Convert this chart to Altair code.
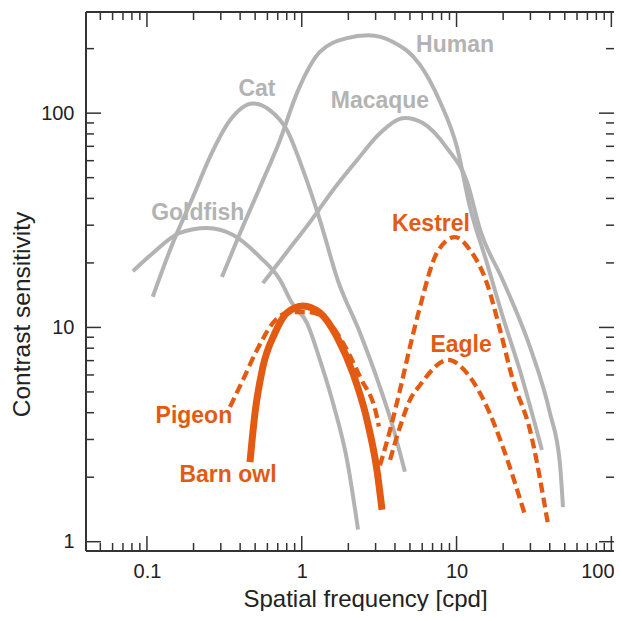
import altair as alt
import pandas as pd

# ---------------- data ----------------
goldfish_x = [0.0812, 0.109, 0.163, 0.244, 0.360, 0.537, 0.723, 0.865, 1.08, 1.31, 1.59, 1.96, 2.31]
goldfish_y = [18.3, 22.2, 27.6, 29.1, 27.0, 21.3, 16.7, 13.0, 10.5, 7.06, 4.45, 2.41, 1.14]

cat_x = [0.109, 0.147, 0.198, 0.255, 0.344, 0.484, 0.624, 0.802, 1.02, 1.31, 1.71, 2.38, 3.20, 3.88, 4.64]
cat_y = [13.9, 24.8, 40.5, 62.4, 92.7, 111, 103, 83.4, 54.2, 31.7, 16.6, 9.42, 5.27, 3.43, 2.12]

human_x = [0.305, 0.399, 0.537, 0.723, 0.931, 1.31, 1.96, 2.68, 3.89, 5.81, 7.82, 10.1, 12.2, 15.7, 19.9, 25.6, 35.6]
human_y = [17.2, 27.5, 45.1, 74.8, 124, 193, 224, 231, 215, 168, 113, 68.7, 36.5, 20.0, 11.2, 6.33, 2.68]

macaque_x = [0.561, 0.802, 1.13, 1.59, 2.27, 3.20, 4.65, 6.06, 8.67, 11.7, 14.2, 19.9, 29.8, 40.1, 46.5, 48.7]
macaque_y = [16.1, 22.5, 31.0, 43.7, 60.2, 80.6, 94.9, 89.9, 68.7, 47.6, 28.5, 16.6, 8.11, 3.99, 2.33, 1.45]

owl_x = [0.463, 0.499, 0.561, 0.671, 0.802, 1.02, 1.31, 1.69, 2.14, 2.64, 3.06, 3.30]
owl_y = [2.35, 3.99, 6.53, 9.42, 11.7, 12.6, 11.7, 9.02, 6.12, 3.70, 2.16, 1.41]

pigeon_x = [0.344, 0.417, 0.514, 0.652, 0.839, 1.08, 1.37, 1.85, 2.38, 3.06, 3.15]
pigeon_y = [4.26, 5.69, 7.85, 10.5, 11.8, 11.8, 11.2, 8.46, 5.87, 3.82, 3.45]

kestrel_x = [3.20, 3.72, 4.31, 5.00, 5.81, 7.47, 9.77, 12.2, 15.7, 19.1, 23.1, 29.8, 39.0]
kestrel_y = [2.27, 3.32, 5.10, 8.11, 12.5, 22.3, 26.4, 23.0, 16.1, 9.73, 5.69, 3.32, 1.20]

eagle_x = [3.72, 4.31, 5.00, 5.81, 8.80, 12.2, 15.7, 19.9, 27.7]
eagle_y = [2.41, 3.43, 4.59, 5.39, 7.05, 5.87, 4.26, 2.77, 1.33]

label_names = ["Human", "Cat", "Macaque", "Goldfish", "Kestrel", "Eagle", "Pigeon", "Barn owl"]
label_x = [9.77, 0.514, 3.20, 0.213, 6.83, 10.7, 0.201, 0.334]
label_y = [208, 129, 113.8, 34.1, 30.3, 8.28, 3.86, 2.05]
label_group = ["gray", "gray", "gray", "gray", "orange", "orange", "orange", "orange"]

x_major = [0.1, 1, 10, 100]
x_minor = [0.05, 0.06, 0.07, 0.08, 0.09, 0.2, 0.3, 0.4, 0.5, 0.6, 0.7, 0.8, 0.9,
           2, 3, 4, 5, 6, 7, 8, 9, 20, 30, 40, 50, 60, 70, 80, 90]
y_major = [1, 10, 100]
y_minor = [2, 3, 4, 5, 6, 7, 8, 9, 20, 30, 40, 50, 60, 70, 80, 90, 200]

# ---------------- styling ----------------
GRAY = "#b3b3b3"
ORANGE = "#e35b12"
AX = "#333333"
FONT = "Liberation Sans"
W, H = 528, 539
MAJ, MIN = 15, 8

xscale = alt.Scale(type="log", domain=[0.0404, 104], nice=False)
yscale = alt.Scale(type="log", domain=[0.905, 296.5], nice=False)


def frame(xs, ys, name):
    return pd.DataFrame({"x": xs, "y": ys, "name": name})


gray_df = pd.concat([
    frame(goldfish_x, goldfish_y, "Goldfish"),
    frame(cat_x, cat_y, "Cat"),
    frame(human_x, human_y, "Human"),
    frame(macaque_x, macaque_y, "Macaque"),
])
dash_df = pd.concat([
    frame(pigeon_x, pigeon_y, "Pigeon"),
    frame(kestrel_x, kestrel_y, "Kestrel"),
    frame(eagle_x, eagle_y, "Eagle"),
])
owl_df = frame(owl_x, owl_y, "Barn owl")
lab_df = pd.DataFrame({"x": label_x, "y": label_y, "name": label_names, "g": label_group})

x_enc = alt.X("x:Q", scale=xscale,
              axis=alt.Axis(values=x_major, format="~g", tickSize=0, domain=False, grid=False,
                            labelFont=FONT, labelFontSize=20, labelColor="#222", labelPadding=10,
                            labelOffset={"condition": {"test": "datum.value >= 100", "value": -14}, "value": 0},
                            title="Spatial frequency [cpd]", titleFont=FONT, titleFontSize=24,
                            titleFontWeight="normal", titleColor="#222",
                            titleX=279, titleY=55, titleBaseline="alphabetic"))
y_enc = alt.Y("y:Q", scale=yscale,
              axis=alt.Axis(values=y_major, format="~g", tickSize=0, domain=False, grid=False,
                            labelFont=FONT, labelFontSize=20, labelColor="#222", labelPadding=12,
                            title="Contrast sensitivity", titleFont=FONT, titleFontSize=24.5,
                            titleFontWeight="normal", titleColor="#222",
                            titleX=-64, titleY=302, titleBaseline="middle", titleAlign="center"))

gray_lines = alt.Chart(gray_df).mark_line(color=GRAY, strokeWidth=4, interpolate="monotone").encode(
    x=x_enc, y=y_enc, detail="name:N")
owl_line = alt.Chart(owl_df).mark_line(color=ORANGE, strokeWidth=7, interpolate="monotone").encode(
    x="x:Q", y="y:Q")
dash_lines = alt.Chart(dash_df).mark_line(color=ORANGE, strokeWidth=4.3, strokeDash=[10, 5],
                                          interpolate="monotone").encode(
    x="x:Q", y="y:Q", detail="name:N")
labels = alt.Chart(lab_df).mark_text(font=FONT, fontSize=23, fontWeight="bold").encode(
    x="x:Q", y="y:Q", text="name:N",
    color=alt.Color("g:N", scale=alt.Scale(domain=["gray", "orange"], range=[GRAY, ORANGE]), legend=None))

# ticks (inward, on all four sides)
xmaj = pd.DataFrame({"x": x_major})
xmin = pd.DataFrame({"x": x_minor})
ymaj = pd.DataFrame({"y": y_major})
ymin = pd.DataFrame({"y": y_minor})


def xticks(df, length):
    bottom = alt.Chart(df).mark_rule(color=AX, strokeWidth=1.5).encode(
        x="x:Q", y=alt.value(H), y2=alt.value(H - length))
    top = alt.Chart(df).mark_rule(color=AX, strokeWidth=1.5).encode(
        x="x:Q", y=alt.value(0), y2=alt.value(length))
    return bottom + top


def yticks(df, length):
    left = alt.Chart(df).mark_rule(color=AX, strokeWidth=1.5).encode(
        y="y:Q", x=alt.value(0), x2=alt.value(length))
    right = alt.Chart(df).mark_rule(color=AX, strokeWidth=1.5).encode(
        y="y:Q", x=alt.value(W), x2=alt.value(W - length))
    return left + right


one = pd.DataFrame({"k": [0]})
spine_left = alt.Chart(one).mark_rule(color=AX, strokeWidth=2).encode(
    x=alt.value(0), y=alt.value(0), y2=alt.value(H))
spine_bottom = alt.Chart(one).mark_rule(color=AX, strokeWidth=2).encode(
    y=alt.value(H), x=alt.value(0), x2=alt.value(W))
spine_top = alt.Chart(one).mark_rule(color=AX, strokeWidth=2).encode(
    y=alt.value(0), x=alt.value(0), x2=alt.value(W))

chart = alt.layer(
    gray_lines, owl_line, dash_lines, labels,
    xticks(xmaj, MAJ), xticks(xmin, MIN), yticks(ymaj, MAJ), yticks(ymin, MIN),
    spine_left, spine_bottom, spine_top,
).properties(
    width=W, height=H,
    autosize=alt.AutoSizeParams(type="none"),
    padding={"left": 78, "top": 4, "right": 0, "bottom": 60},
).configure_view(stroke=None).configure(background="white")

chart.save("out.html", embed_options={"renderer": "svg", "actions": False})
